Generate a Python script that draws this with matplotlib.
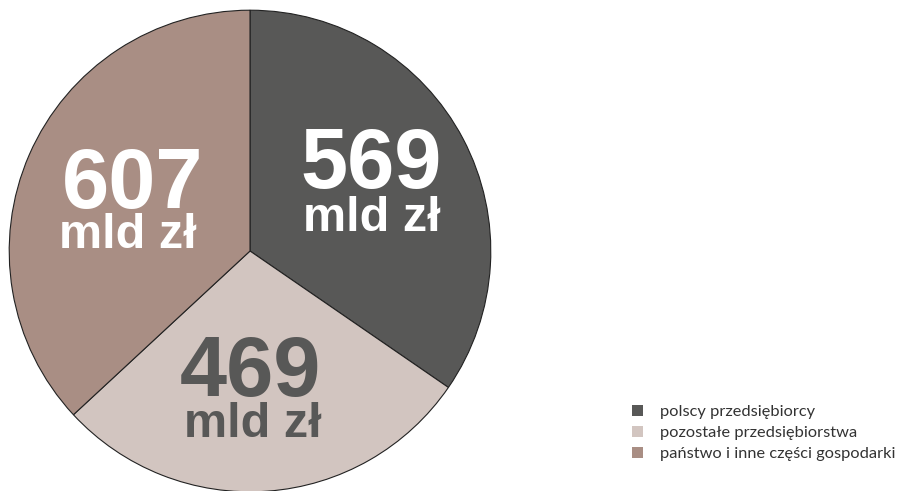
import matplotlib.pyplot as plt
from matplotlib.patches import Patch

labels = ["polscy przedsiębiorcy", "pozostałe przedsiębiorstwa", "państwo i inne części gospodarki"]
values = [569, 469, 607]
colors = ["#585857", "#d2c5c0", "#a98e84"]
text_colors = ["white", "#585857", "white"]

# label baselines (data coords, pie radius = 1)
num_pos = [(0.504, 0.260), (0.0, -0.603), (-0.488, 0.178)]
unit_pos = [(0.504, 0.083), (0.012, -0.773), (-0.508, 0.012)]

fig = plt.figure(figsize=(9, 4.91), dpi=100)
fig.patch.set_facecolor("white")
ax = fig.add_axes([8 / 900, -2 / 491, 484 / 900, 484 / 491])
wedges, _ = ax.pie(values, colors=colors, startangle=90, counterclock=False,
                   radius=1, wedgeprops=dict(edgecolor="#222222", linewidth=0.8))
ax.set_xlim(-1.005, 1.005)
ax.set_ylim(-1.005, 1.005)
ax.axis("off")

for v, c, (nx, ny), (ux, uy) in zip(values, text_colors, num_pos, unit_pos):
    ax.text(nx, ny, str(v), ha="center", va="baseline", color=c,
            fontsize=61, fontweight="bold", family="Liberation Sans")
    ax.text(ux, uy, "mld zł", ha="center", va="baseline", color=c,
            fontsize=35, fontweight="bold", family="Liberation Sans")

handles = [Patch(facecolor=c, edgecolor="none") for c in colors]
fig.legend(handles, labels, loc="upper left", bbox_to_anchor=(617 / 900, 1 - 390 / 491),
           frameon=False, handlelength=0.7, handleheight=0.7, handletextpad=1.0,
           labelspacing=0.4, prop={"family": "Lato", "size": 11.8}, labelcolor="#333333")

fig.savefig("out.png", dpi=100)
